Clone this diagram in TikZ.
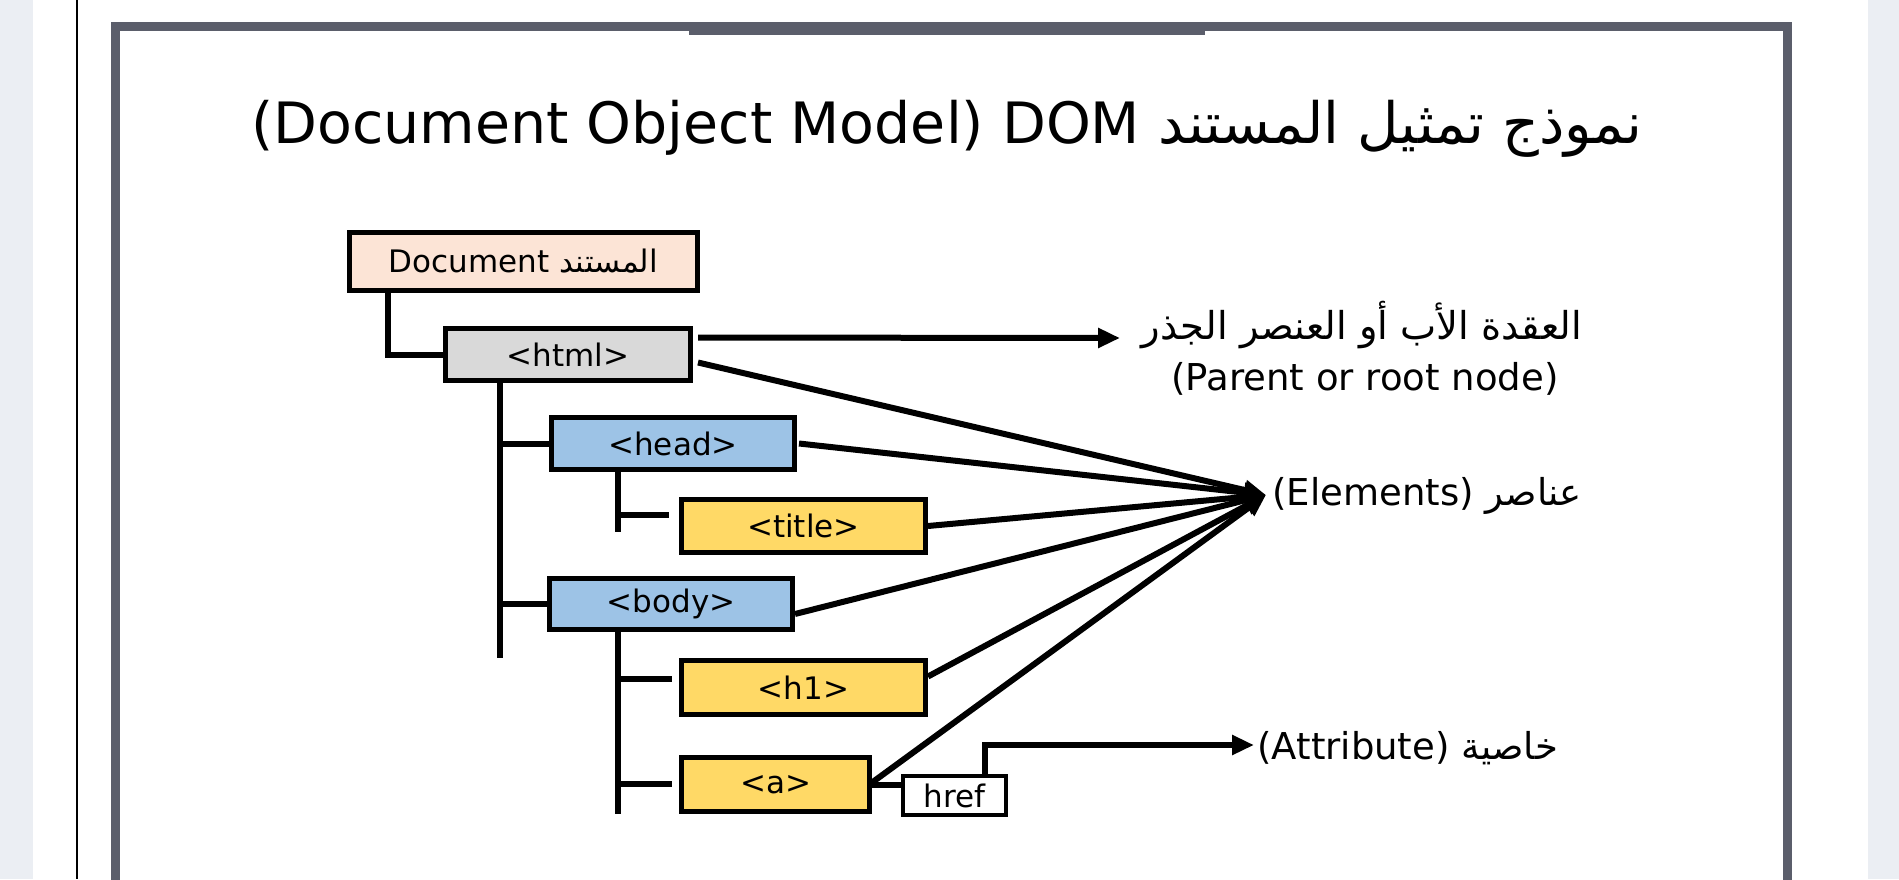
\documentclass[tikz,border=0pt]{standalone}
\usepackage{fontspec}
\setmainfont{DejaVu Sans}
\newfontfamily\arabicfont[Script=Arabic]{DejaVu Sans}
\TeXXeTstate=1
\usetikzlibrary{arrows.meta,calc}
\definecolor{framegray}{HTML}{5B5E6B}
\definecolor{stripgray}{HTML}{EBEEF3}
\definecolor{docfill}{HTML}{FCE4D6}
\definecolor{htmlfill}{HTML}{D9D9D9}
\definecolor{bluefill}{HTML}{9DC3E6}
\definecolor{yellowfill}{HTML}{FFD966}
\begin{document}
\begin{tikzpicture}[x=0.5pt,y=-0.5pt,
  tagbox/.style={draw=black, line width=2.5pt, inner sep=0pt, font=\fontsize{15.5}{18}\selectfont},
  conn/.style={draw=black, line width=3pt},
  arr/.style={-{Triangle[length=11pt,width=9.5pt]}},
  lbl/.style={inner sep=0pt, font=\fontsize{18.5}{22}\selectfont}]
\useasboundingbox (0,0) rectangle (1899,879);
\clip (0,0) rectangle (1899,879);
\fill[white] (0,0) rectangle (1899,879);
% page surroundings
\fill[stripgray] (0,0) rectangle (33,879);
\fill[stripgray] (1868,0) rectangle (1899,879);
\draw[black, line width=0.8pt] (77,0) -- (77,879);
% frame
\draw[framegray, line width=4.5pt] (115.5,920) -- (115.5,26.5) -- (1787.5,26.5) -- (1787.5,920);
\fill[framegray] (689,22) rectangle (1205,35);
% title
\node (ttl) [anchor=base, inner sep=0pt, font=\fontsize{28.5}{34}\selectfont] at (947,143)
  {(Document Object Model) DOM {\arabicfont\beginR نموذج تمثيل المستند\endR}};
% boxes
\node (doc) [tagbox, fill=docfill, minimum width=174pt, minimum height=29pt] at (523.5,261.5)
  {Document {\arabicfont\beginR المستند\endR}};
\node (html) [tagbox, fill=htmlfill, minimum width=122.5pt, minimum height=26pt] at (568,354.5) {<html>};
\node (head) [tagbox, fill=bluefill, minimum width=121.5pt, minimum height=26pt] at (673,443.5) {<head>};
\node (title) [tagbox, fill=yellowfill, minimum width=122pt, minimum height=26.5pt] at (803.5,526) {<title>};
\node (body) [tagbox, fill=bluefill, minimum width=121.5pt, minimum height=25.5pt] at (671,604) {<body>};
\node (h1) [tagbox, fill=yellowfill, minimum width=122pt, minimum height=27pt] at (803.5,687.5) {<h1>};
\node (a) [tagbox, fill=yellowfill, minimum width=94pt, minimum height=27pt] at (775.5,784.5) {<a>};
\node (href) [tagbox, fill=white, line width=2pt, minimum width=51.5pt, minimum height=19.5pt] at (954.5,795.5) {href};
% labels
\node (parA) [lbl, anchor=base, font=\fontsize{19.2}{22}\selectfont] at (1362,339) {\arabicfont\beginR العقدة الأب أو العنصر الجذر\endR};
\node (parB) [lbl, anchor=base] at (1365,390) {(Parent or root node)};
\node (elem) [lbl, anchor=base west] at (1272,505) {(Elements) {\arabicfont\beginR عناصر\endR}};
\node (attr) [lbl, anchor=base west] at (1257,759) {(Attribute) {\arabicfont\beginR خاصية\endR}};
% tree connectors
\draw[conn] (doc.south west) ++(41,0) |- (html.west);
\coordinate (hv) at (500,658);
\draw[conn] (html.south -| hv) -- (hv);
\draw[conn] (hv |- head.west) -- (head.west);
\draw[conn] (hv |- body.west) -- (body.west);
\coordinate (hdv) at (618,532);
\coordinate (ttick) at (669,515);
\draw[conn] (head.south -| hdv) -- (hdv);
\draw[conn] (hdv |- ttick) -- (ttick);
\coordinate (bdv) at (618,814);
\coordinate (h1tick) at (672,679);
\coordinate (atick) at (672,784);
\draw[conn] (body.south -| bdv) -- (bdv);
\draw[conn] (bdv |- h1tick) -- (h1tick);
\draw[conn] (bdv |- atick) -- (atick);
\draw[conn] (a.east) -- (a.east -| href.west);
% arrows
\coordinate (ptip) at (1120,338);
\coordinate (etip) at (1266,495);
\coordinate (atip) at (1254,745);
\coordinate (hrefup) at (985,745);
\draw[conn, arr] ([xshift=2.5pt,yshift=8.5pt]html.east) -- (ptip);
\draw[conn, arr] ([xshift=2.5pt,yshift=-4pt]html.east) -- (etip);
\draw[conn, arr] ([xshift=1pt]head.east) -- (etip);
\draw[conn, arr] (title.east) -- (etip);
\draw[conn, arr] ([yshift=-5pt]body.east) -- (etip);
\draw[conn, arr] ([yshift=5.5pt]h1.east) -- (etip);
\draw[conn, arr] ([yshift=1pt]a.east) -- (etip);
\draw[conn, arr] (href.north -| hrefup) |- (atip);
\end{tikzpicture}
\end{document}
